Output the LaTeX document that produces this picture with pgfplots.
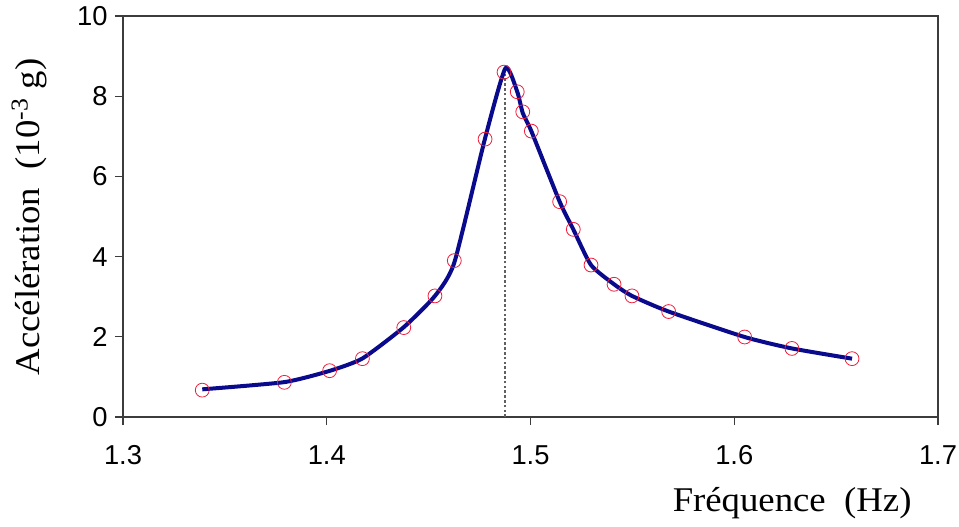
\documentclass[border=0pt]{standalone}
\usepackage{pgfplots}
\pgfplotsset{compat=1.18}
\usepackage{pgfplotstable}
\usepackage{fontspec}
\setmainfont{Liberation Serif}[FakeStretch=1.06]
\newfontfamily\sansf{Liberation Sans}
\definecolor{curveblue}{RGB}{10,10,140}
\definecolor{mkred}{RGB}{240,30,60}
\definecolor{axgray}{RGB}{60,60,60}
\pgfplotstableread{
f a
1.3389 0.67
1.3792 0.865
1.4014 1.155
1.4175 1.455
1.4378 2.23
1.4531 3.02
1.4626 3.90
1.4777 6.93
1.4870 8.60
1.4935 8.11
1.4962 7.61
1.5004 7.13
1.5143 5.37
1.5210 4.68
1.5297 3.79
1.5410 3.31
1.5498 3.02
1.5678 2.63
1.6051 1.995
1.6283 1.71
1.6578 1.455
}\meas
\pgfplotstableread{
f a
1.3389 0.69
1.3792 0.87
1.4014 1.15
1.4175 1.46
1.4378 2.24
1.4531 3.02
1.4626 3.85
1.4777 6.95
1.4877 8.70
1.4935 8.11
1.4962 7.58
1.5004 7.13
1.5143 5.37
1.5210 4.68
1.5297 3.79
1.5410 3.31
1.5498 3.02
1.5678 2.63
1.6051 1.995
1.6283 1.71
1.6578 1.455
}\fit
\begin{document}
\begin{tikzpicture}
\useasboundingbox (-92.25pt,-81.75pt) rectangle (627pt,312.75pt);
\begin{axis}[
  at={(0,0)}, anchor=south west,
  scale only axis, width=611.25pt, height=300.75pt,
  xmin=1.3, xmax=1.7, ymin=0, ymax=10,
  xtick={1.3,1.4,1.5,1.6,1.7},
  xticklabels={1.3,1.4,1.5,1.6,1.7},
  ytick={0,2,4,6,8,10},
  yticklabels={0,2,4,6,8,10},
  xtick pos=bottom, ytick pos=left,
  tick align=outside,
  major tick length=6pt,
  axis line style={axgray, line width=0.8pt},
  tick style={axgray, line width=0.8pt},
  ticklabel style={font=\sansf\fontsize{20.5}{24}\selectfont, text=black},
  xticklabel style={yshift=-12pt},
  yticklabel style={xshift=-2pt},
  xlabel={Fréquence\ \ (Hz)},
  ylabel={Accélération\ \ (10\textsuperscript{-3} g)},
  label style={font=\fontsize{26}{31}\selectfont},
  xlabel style={at={(axis description cs:0.821,-0.235)}, anchor=base},
  ylabel style={at={(axis description cs:-0.115,0.499)}, anchor=center},
]
\addplot[gray!75!black, line width=2pt, dash pattern=on 2pt off 1.6pt] coordinates {(1.4875,0) (1.4875,8.62)};
\addplot[curveblue, line width=3pt, smooth, tension=0.35] table[x=f,y=a] {\fit};
\addplot[only marks, mark=o, mark size=5.2pt, mkred, mark options={line width=0.6pt}] table[x=f,y=a] {\meas};
\end{axis}
\end{tikzpicture}
\end{document}
